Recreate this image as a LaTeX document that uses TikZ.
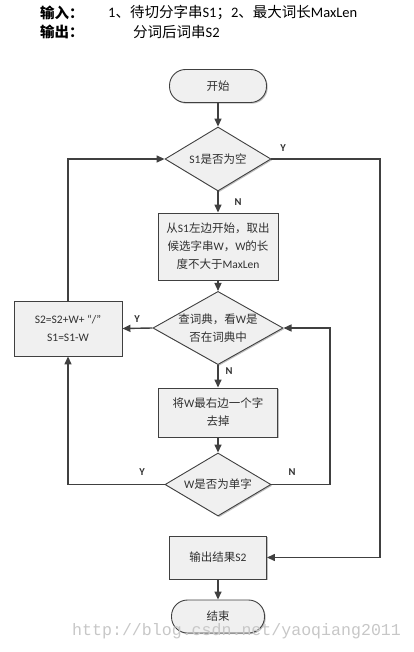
\documentclass[tikz,border=0pt]{standalone}
\usepackage{fontspec}
\setmainfont{Carlito}
\newfontfamily\cjk{Noto Sans CJK SC}
\newfontfamily\wmfont{Liberation Mono}
\usetikzlibrary{shapes.geometric,arrows.meta,shadows}
\newcommand{\zh}[1]{{\cjk #1}}
\definecolor{boxfill}{HTML}{F0F0F0}
\definecolor{edge}{HTML}{404040}
\definecolor{txt}{HTML}{303030}
\begin{document}
\begin{tikzpicture}[x=1pt,y=-1pt,
  base/.style={draw=edge,fill=boxfill,line width=0.9pt,text=txt,font=\fontsize{11.5}{18}\selectfont,
    align=center,inner sep=0pt,drop shadow={shadow xshift=1.2pt,shadow yshift=-1.2pt,opacity=0.25,fill=black}},
  terminal/.style={base,rectangle,rounded corners=16pt},
  procbox/.style={base,rectangle},
  decision/.style={base,diamond},
  conn/.style={draw=edge,line width=1.4pt,-{Triangle[length=8pt,width=7pt]}},
  lab/.style={text=txt,font=\fontsize{10.5}{12}\selectfont\bfseries,inner sep=0pt},
  head/.style={text=black,font=\fontsize{14.5}{16}\selectfont,anchor=west,inner sep=0pt}]
\useasboundingbox (0,0) rectangle (413,652);

% header
\node[head] (h1) at (40,13) {\cjk\bfseries 输入：};
\node[head] (h2) at (108,13) {1\zh{、待切分字串}S1\zh{；}2\zh{、最大词长}MaxLen};
\node[head] (h3) at (40,32) {\cjk\bfseries 输出：};
\node[head] (h4) at (133,32) {\zh{分词后词串}S2};

% nodes
\node[terminal,minimum width=97pt,minimum height=33pt] (start) at (218,86) {\zh{开始}};
\node[decision,minimum width=106pt,minimum height=64pt,shape aspect=1.656] (d1) at (218,159) {S1\zh{是否为空}};
\node[procbox,minimum width=120pt,minimum height=67pt] (b2) at (218,246.5)
  {\zh{从}S1\zh{左边开始，取出}\\\zh{候选字串}W\zh{，}W\zh{的长}\\\zh{度不大于}MaxLen};
\node[decision,minimum width=128pt,minimum height=72pt,shape aspect=1.778] (d2) at (218,328)
  {\zh{查词典，看}W\zh{是}\\\zh{否在词典中}};
\node[procbox,minimum width=108pt,minimum height=55pt] (L) at (68,328.5)
  {S2=S2+W+ “/”\\S1=S1-W};
\node[procbox,minimum width=119pt,minimum height=49pt] (b3) at (218,412.5)
  {\zh{将}W\zh{最右边一个字}\\\zh{去掉}};
\node[decision,minimum width=106pt,minimum height=63pt,shape aspect=1.683] (d3) at (218,484.5) {W\zh{是否为单字}};
\node[procbox,minimum width=97pt,minimum height=43pt] (out) at (218,557.5) {\zh{输出结果}S2};
\node[terminal,minimum width=93pt,minimum height=33pt] (end) at (218,616.5) {\zh{结束}};

% helper coordinates
\coordinate (rtop) at (380,159);
\coordinate (rmid) at (330,484.5);

% connectors
\draw[conn] (start.south) -- (d1.north);
\draw[conn] (d1.south) -- (b2.north);
\draw[conn] (b2.south) -- (d2.north);
\draw[conn] (d2.west) -- (L.east);
\draw[conn] (d2.south) -- (b3.north);
\draw[conn] (b3.south) -- (d3.north);
\draw[conn] (d3.west) -| (L.south);
\draw[conn] (d3.east) -- (rmid) |- (d2.east);
\draw[conn] (L.north) |- (d1.west);
\draw[conn] (d1.east) -- (rtop) |- (out.east);
\draw[conn] (out.south) -- (end.north);

% labels
\node[lab] (y1) at (283,148) {Y};
\node[lab] (n1) at (238,202) {N};
\node[lab] (y2) at (137,319) {Y};
\node[lab] (n2) at (229,371) {N};
\node[lab] (y3) at (142,472) {Y};
\node[lab] (n3) at (292,472) {N};

% watermark
\node[anchor=west,inner sep=0pt,text=black!22,font=\wmfont\fontsize{16.6}{18}\selectfont] (wm) at (72,631) {http://blog.csdn.net/yaoqiang2011};
\end{tikzpicture}
\end{document}
